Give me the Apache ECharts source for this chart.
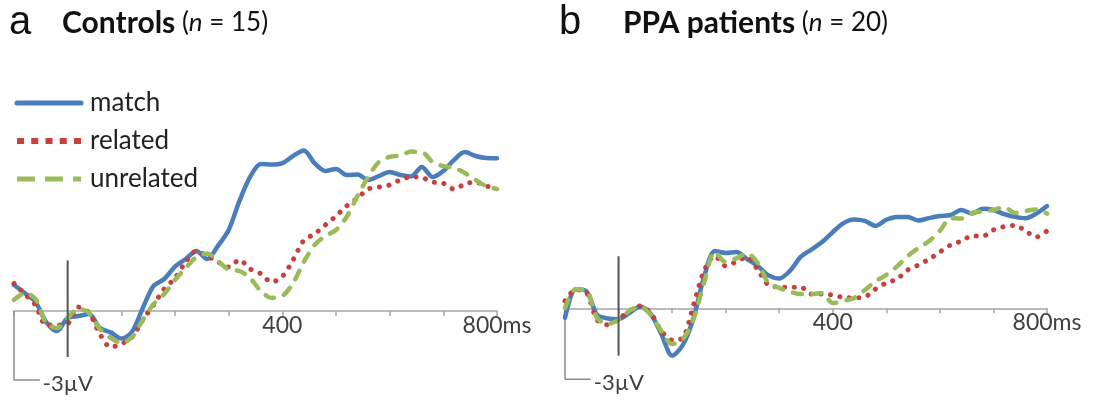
<!DOCTYPE html>
<html><head><meta charset="utf-8">
<script src="https://cdn.jsdelivr.net/npm/echarts@6/dist/echarts.min.js"></script>
<style>html,body{margin:0;padding:0;background:#fff}#c{width:1101px;height:401px}</style>
</head><body><div id="c"></div>
<script>
// time points (ms)
const times = [-100,-80,-60,-40,-20,0,20,40,60,80,100,120,140,160,180,200,220,240,260,280,300,320,340,360,380,400,420,440,460,480,500,520,540,560,580,600,620,640,660,680,700,720,740,760,780,800];

// Controls (n = 15), amplitude in µV
const ctrlMatch = [1.13,0.78,0.39,-0.48,-0.87,-0.30,-0.22,-0.13,-0.74,-0.93,-1.2,-0.9,0.13,1.09,1.39,1.93,2.26,2.61,2.26,2.83,3.52,4.78,5.83,6.39,6.37,6.43,6.74,6.98,6.43,6.09,6.17,5.91,5.93,5.70,5.87,6.04,5.91,5.85,6.26,5.83,6.09,6.57,6.91,6.74,6.65,6.64];
const ctrlRelated = [1.20,0.74,0.26,-0.61,-0.61,-0.55,0.17,-0.09,-1.0,-1.57,-1.43,-1.13,-0.39,0.26,0.96,1.43,2.13,2.61,2.39,2.13,1.91,2.22,1.83,1.62,1.26,1.50,2.22,3.07,3.35,3.74,4.13,4.57,4.91,5.30,5.39,5.48,5.70,5.83,5.80,5.61,5.55,5.30,5.52,5.61,5.43,5.35];
const ctrlUnrelated = [0.48,0.78,0.52,-0.52,-0.74,-0.30,0.09,-0.09,-0.78,-1.17,-1.39,-1.13,-0.39,0.30,0.74,1.35,1.87,2.35,2.50,2.17,1.80,1.74,1.43,0.87,0.57,0.65,1.22,2.13,2.87,3.26,3.52,4.1,5.0,5.83,6.48,6.70,6.76,6.93,6.91,6.48,6.30,6.22,6.0,5.70,5.43,5.30];

// PPA patients (n = 20), amplitude in µV
const ppaMatch = [-0.40,0.80,0.72,-0.28,-0.43,-0.46,-0.20,0.08,-0.24,-1.09,-2.0,-1.55,-0.41,1.36,2.42,2.34,2.38,2.08,1.79,1.39,1.26,1.58,2.17,2.48,2.80,3.22,3.60,3.75,3.69,3.48,3.74,3.86,3.86,3.71,3.81,3.90,3.94,4.15,4.0,4.20,4.15,3.98,3.86,3.80,4.0,4.32];
const ppaRelated = [0.31,0.78,0.66,-0.49,-0.70,-0.45,-0.11,0.10,-0.20,-0.96,-1.34,-1.25,0.14,1.6,2.21,1.79,1.97,2.17,1.62,0.98,0.90,0.89,0.90,0.60,0.60,0.56,0.46,0.44,0.48,0.82,1.07,1.24,1.62,1.83,2.08,2.38,2.67,2.84,3.05,3.05,3.31,3.45,3.50,3.27,3.01,3.27];
const ppaUnrelated = [0.01,0.80,0.75,-0.41,-0.66,-0.49,-0.11,0.07,-0.28,-0.96,-1.51,-1.30,-0.45,1.11,2.38,1.96,2.11,2.32,1.91,1.07,0.86,0.70,0.60,0.60,0.65,0.22,0.31,0.44,0.77,1.15,1.41,1.77,2.21,2.55,2.84,3.27,3.81,3.79,4.03,4.09,4.15,4.28,4.03,4.11,4.17,4.0];

// annotations
const onsetLine = [[0, 2.2], [0, -2.0]];
const scaleBar = [[-100, 0], [-100, -3], [-52, -3]];
const scaleLabel = '-3µV';
const tickLabelValues = [400, 800];
const tickLabelTexts = ['400', '800ms'];
const seriesNames = ['match', 'related', 'unrelated'];

const C = {match: '#4A7EBB', related: '#C8403D', unrelated: '#9BBB59'};
const xy = vals => times.map((t, i) => [t, vals[i]]);

function panel(idx, m, r, u) {
  const base = {type: 'line', xAxisIndex: idx, yAxisIndex: idx, symbol: 'none', clip: false};
  return [
    Object.assign({}, base, {name: seriesNames[0], data: xy(m), smooth: 0.3, z: 3,
      itemStyle: {color: C.match}, lineStyle: {color: C.match, width: 4.5, cap: 'round', join: 'round'}}),
    Object.assign({}, base, {name: seriesNames[1], data: xy(r), smooth: 0.3, z: 4,
      itemStyle: {color: C.related}, lineStyle: {color: C.related, width: 5, type: [0.1, 9.5], cap: 'round', join: 'round'}}),
    Object.assign({}, base, {name: seriesNames[2], data: xy(u), smooth: 0.3, z: 5,
      itemStyle: {color: C.unrelated}, lineStyle: {color: C.unrelated, width: 4.5, type: [9, 10.5], cap: 'round', join: 'round'}}),
    Object.assign({}, base, {data: onsetLine, silent: true, z: 6, lineStyle: {color: '#555', width: 2}}),
    Object.assign({}, base, {data: scaleBar, silent: true, z: 2, lineStyle: {color: '#8c8c8c', width: 1.5},
      endLabel: {show: true, formatter: scaleLabel, distance: 3, offset: [0, 4], fontFamily: 'Lato', fontSize: 22, color: '#404040'}})
  ];
}

function xAxis(idx) {
  return {gridIndex: idx, type: 'value', min: -100, max: 800, interval: 100,
    axisLine: {onZero: false, lineStyle: {color: '#a6a6a6', width: 1.5}},
    axisTick: {show: true, length: 5, lineStyle: {color: '#a6a6a6', width: 1.5}},
    splitLine: {show: false},
    axisLabel: {showMinLabel: true, showMaxLabel: true, margin: 3, fontFamily: 'Lato', fontSize: 23, color: '#404040',
      formatter: v => { const k = tickLabelValues.indexOf(v); return k >= 0 ? tickLabelTexts[k] : ''; }}};
}
function yAxis(idx) {
  return {gridIndex: idx, type: 'value', min: 0, max: 8, show: false, splitLine: {show: false}};
}

const richT = {
  b: {fontFamily: 'Lato', fontWeight: 'bold', fontSize: 30, color: '#111'},
  n: {fontFamily: 'Lato', fontWeight: 'normal', fontSize: 26, color: '#111'},
  i: {fontFamily: 'Lato', fontWeight: 'normal', fontStyle: 'italic', fontSize: 26, color: '#111'}
};
const letterStyle = {fontFamily: 'Liberation Sans', fontSize: 40, fontWeight: 'normal', color: '#111'};

const option = {
  animation: false,
  backgroundColor: '#fff',
  title: [
    {text: 'a', left: 9, top: 3, padding: 0, textStyle: letterStyle},
    {text: '{b|Controls} {n|(}{i|n}{n| = 15)}', left: 62, top: 8, padding: 0, textStyle: {fontSize: 26, fontWeight: 'normal', fontFamily: 'Lato', rich: richT}},
    {text: 'b', left: 559, top: 3, padding: 0, textStyle: letterStyle},
    {text: '{b|PPA patients} {n|(}{i|n}{n| = 20)}', left: 623, top: 8, padding: 0, textStyle: {fontSize: 26, fontWeight: 'normal', fontFamily: 'Lato', rich: richT}}
  ],
  legend: {
    orient: 'vertical', left: 14, top: 90, padding: 0, itemWidth: 64, itemHeight: 25, itemGap: 12,
    itemStyle: {opacity: 0},
    textStyle: {fontFamily: 'Lato', fontSize: 26, color: '#222', padding: [0, 0, 0, 4]},
    data: [
      {name: 'match', lineStyle: {width: 5}},
      {name: 'related', lineStyle: {width: 6, type: [7, 7.25], cap: 'butt'}},
      {name: 'unrelated', lineStyle: {width: 5, type: [18, 10], cap: 'butt'}}
    ]
  },
  grid: [
    {left: 14, top: 127, width: 483, height: 184, outerBoundsMode: 'none', containLabel: false},
    {left: 565, top: 118.9, width: 482, height: 189.4, outerBoundsMode: 'none', containLabel: false}
  ],
  xAxis: [xAxis(0), xAxis(1)],
  yAxis: [yAxis(0), yAxis(1)],
  series: [].concat(panel(0, ctrlMatch, ctrlRelated, ctrlUnrelated), panel(1, ppaMatch, ppaRelated, ppaUnrelated))
};
const chart = echarts.init(document.getElementById('c'));
chart.setOption(option);
</script>
</body></html>
